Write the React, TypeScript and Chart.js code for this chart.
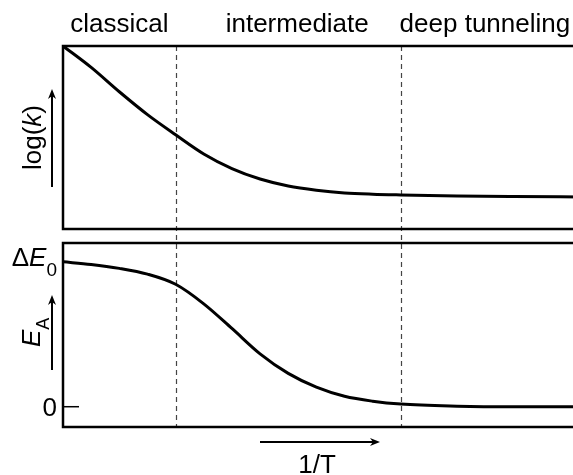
import React, { useEffect, useRef } from "react";
import { Chart, registerables } from "chart.js";

Chart.register(...registerables);

// Reciprocal temperature samples (arbitrary units) shared by both panels
const xValues = [0, 0.25, 0.5, 0.75, 1, 1.25, 1.5, 1.75, 2, 2.25, 2.5, 2.75, 3, 3.5, 4, 4.6];
// Normalised log(k) along 1/T
const logKValues = [1.0, 0.883, 0.75, 0.625, 0.515, 0.41, 0.33, 0.273, 0.235, 0.212, 0.197, 0.19, 0.186, 0.18, 0.177, 0.175];
// Apparent activation energy E_A in units of ΔE0
const activationValues = [1.0, 0.982, 0.955, 0.915, 0.845, 0.71, 0.54, 0.365, 0.23, 0.135, 0.072, 0.038, 0.018, 0.004, 0, 0];
// Regime boundaries along 1/T and their names
const regionBounds = [0, 1, 3, 4.6];
const regionNames = ["classical", "intermediate", "deep tunneling"];
// Energy axis ticks (0 and ΔE0)
const energyTicks = [0, 1];

const FONT = '"Liberation Sans", Arial, Helvetica, sans-serif';
const CANVAS_W = 600;
const CANVAS_H = 475;
const PLOT_LEFT = 63;
const PLOT_RIGHT_PAD = 19;
const TOP_PANEL = { top: 46, bottom: 229 };
const BOTTOM_PANEL = { top: 243, bottom: 427 };
const DASH = [5, 4];
// Horizontal nudges (px) applied to the centred regime names
const REGION_LABEL_NUDGE = [0, 9, -6];

type Run = { text: string; italic?: boolean; size?: number; dy?: number };

function runFont(r: Run) {
  return `${r.italic ? "italic " : ""}${r.size ?? 26}px ${FONT}`;
}

function runsWidth(ctx: CanvasRenderingContext2D, runs: Run[]) {
  let w = 0;
  for (const r of runs) {
    ctx.font = runFont(r);
    w += ctx.measureText(r.text).width;
  }
  return w;
}

// Draws a sequence of styled text runs starting at x on baseline y
function drawRuns(ctx: CanvasRenderingContext2D, runs: Run[], x: number, y: number, align: "left" | "center" | "right") {
  const w = runsWidth(ctx, runs);
  let cx = align === "left" ? x : align === "center" ? x - w / 2 : x - w;
  ctx.textAlign = "left";
  ctx.textBaseline = "alphabetic";
  for (const r of runs) {
    ctx.font = runFont(r);
    ctx.fillText(r.text, cx, y + (r.dy ?? 0));
    cx += ctx.measureText(r.text).width;
  }
}

function drawArrow(ctx: CanvasRenderingContext2D, x1: number, y1: number, x2: number, y2: number) {
  const ang = Math.atan2(y2 - y1, x2 - x1);
  const len = Math.hypot(x2 - x1, y2 - y1);
  const head = 10;
  const half = 4;
  ctx.save();
  ctx.translate(x1, y1);
  ctx.rotate(ang);
  ctx.strokeStyle = "#000";
  ctx.fillStyle = "#000";
  ctx.lineWidth = 2;
  ctx.beginPath();
  ctx.moveTo(0, 0);
  ctx.lineTo(len - head * 0.6, 0);
  ctx.stroke();
  ctx.beginPath();
  ctx.moveTo(len, 0);
  ctx.lineTo(len - head, -half);
  ctx.lineTo(len - head * 0.7, 0);
  ctx.lineTo(len - head, half);
  ctx.closePath();
  ctx.fill();
  ctx.restore();
}

function drawFrame(chart: Chart) {
  const { ctx, chartArea: a } = chart;
  ctx.save();
  ctx.strokeStyle = "#000";
  ctx.lineWidth = 2.5;
  ctx.strokeRect(a.left, a.top, a.right - a.left, a.bottom - a.top);
  ctx.restore();
}

function drawRegionLines(chart: Chart, y1: number, y2: number, offset: number) {
  const { ctx } = chart;
  const x = chart.scales.x;
  ctx.save();
  ctx.strokeStyle = "#444";
  ctx.lineWidth = 1.2;
  ctx.setLineDash(DASH);
  ctx.lineDashOffset = offset;
  for (const b of regionBounds.slice(1, -1)) {
    const px = Math.round(x.getPixelForValue(b)) + 0.5;
    ctx.beginPath();
    ctx.moveTo(px, y1);
    ctx.lineTo(px, y2);
    ctx.stroke();
  }
  ctx.restore();
}

const topPlugin = {
  id: "rateDecor",
  beforeDatasetsDraw(chart: Chart) {
    const a = chart.chartArea;
    drawRegionLines(chart, a.top, BOTTOM_PANEL.top, 0);
  },
  afterDraw(chart: Chart) {
    const { ctx, chartArea: a } = chart;
    const x = chart.scales.x;
    drawFrame(chart);
    ctx.save();
    ctx.fillStyle = "#000";
    // Regime names above the panel
    regionNames.forEach((name, i) => {
      const mid = (regionBounds[i] + regionBounds[i + 1]) / 2;
      drawRuns(ctx, [{ text: name }], x.getPixelForValue(mid) + REGION_LABEL_NUDGE[i], 32, "center");
    });
    // Rotated axis label log(k)
    const cy = (a.top + a.bottom) / 2;
    ctx.save();
    ctx.translate(41, cy);
    ctx.rotate(-Math.PI / 2);
    drawRuns(ctx, [{ text: "log(" }, { text: "k", italic: true }, { text: ")" }], 0, 0, "center");
    ctx.restore();
    ctx.restore();
    drawArrow(ctx, 52, a.bottom - 42, 52, a.top + 43);
  },
};

const bottomPlugin = {
  id: "energyDecor",
  beforeDatasetsDraw(chart: Chart) {
    const a = chart.chartArea;
    const period = DASH[0] + DASH[1];
    drawRegionLines(chart, a.top, a.bottom, (a.top - TOP_PANEL.top) % period);
  },
  afterDraw(chart: Chart) {
    const { ctx, chartArea: a } = chart;
    const y = chart.scales.y;
    drawFrame(chart);
    ctx.save();
    ctx.fillStyle = "#000";
    ctx.strokeStyle = "#000";
    const labelRight = a.left - 6;
    for (const t of energyTicks) {
      const py = y.getPixelForValue(t);
      if (t === 0) {
        ctx.lineWidth = 1.5;
        ctx.beginPath();
        ctx.moveTo(a.left, py);
        ctx.lineTo(a.left + 16, py);
        ctx.stroke();
        drawRuns(ctx, [{ text: "0" }], labelRight, py + 9, "right");
      } else {
        drawRuns(
          ctx,
          [{ text: "Δ" }, { text: "E", italic: true }, { text: "0", size: 19, dy: 10 }],
          labelRight,
          py + 4,
          "right"
        );
      }
    }
    // Rotated axis label E_A
    ctx.save();
    ctx.translate(40, 347);
    ctx.rotate(-Math.PI / 2);
    drawRuns(ctx, [{ text: "E", italic: true }, { text: "A", size: 18, dy: 9 }], 0, 0, "left");
    ctx.restore();
    // Horizontal 1/T label
    drawRuns(ctx, [{ text: "1/T" }], 317, 473, "center");
    ctx.restore();
    drawArrow(ctx, 52, 370, 52, 295);
    drawArrow(ctx, 260, 442, 380, 442);
  },
};

function points(ys: number[]) {
  return xValues.map((x, i) => ({ x, y: ys[i] }));
}

function baseOptions(padTop: number, padBottom: number, yMin: number, yMax: number) {
  return {
    responsive: false,
    animation: false as const,
    events: [] as any[],
    layout: { padding: { left: PLOT_LEFT, right: PLOT_RIGHT_PAD, top: padTop, bottom: padBottom } },
    plugins: { legend: { display: false }, tooltip: { enabled: false }, title: { display: false } },
    scales: {
      x: { type: "linear" as const, display: false, min: regionBounds[0], max: regionBounds[regionBounds.length - 1] },
      y: { type: "linear" as const, display: false, min: yMin, max: yMax },
    },
  };
}

export default function App() {
  const topRef = useRef<HTMLCanvasElement>(null);
  const bottomRef = useRef<HTMLCanvasElement>(null);

  useEffect(() => {
    const lineStyle = {
      borderColor: "#000",
      borderWidth: 3,
      pointRadius: 0,
      fill: false,
      cubicInterpolationMode: "monotone" as const,
    };
    const topChart = new Chart(topRef.current!, {
      type: "line",
      data: { datasets: [{ label: "log(k)", data: points(logKValues), ...lineStyle }] },
      options: baseOptions(TOP_PANEL.top, CANVAS_H - TOP_PANEL.bottom, 0, 1) as any,
      plugins: [topPlugin],
    });
    const bottomChart = new Chart(bottomRef.current!, {
      type: "line",
      data: { datasets: [{ label: "E_A", data: points(activationValues), ...lineStyle }] },
      options: baseOptions(BOTTOM_PANEL.top, CANVAS_H - BOTTOM_PANEL.bottom, -0.14, 1.13) as any,
      plugins: [bottomPlugin],
    });
    return () => {
      topChart.destroy();
      bottomChart.destroy();
    };
  }, []);

  return (
    <div
      style={{
        position: "fixed",
        left: 0,
        top: 0,
        width: 573,
        height: 475,
        overflow: "hidden",
        background: "#fff",
      }}
    >
      <canvas ref={topRef} width={CANVAS_W} height={CANVAS_H} style={{ position: "absolute", left: 0, top: 0 }} />
      <canvas ref={bottomRef} width={CANVAS_W} height={CANVAS_H} style={{ position: "absolute", left: 0, top: 0 }} />
    </div>
  );
}
